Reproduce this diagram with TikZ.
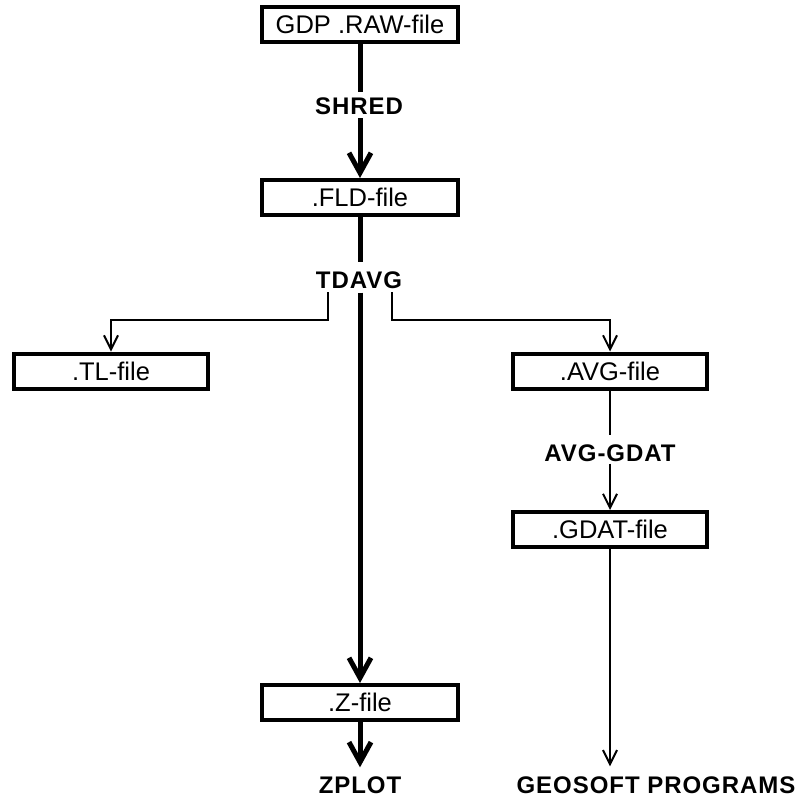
\documentclass[tikz,border=0pt]{standalone}
\usepackage{fontspec}
\setmainfont{Liberation Sans}
\newfontfamily\lblfont[LetterSpace=4]{Liberation Sans}
\usetikzlibrary{arrows.meta,calc}
\tikzset{
  filebox/.style={draw, line width=4pt, minimum width=196pt, minimum height=35pt,
    inner sep=0pt, font=\fontsize{25.5}{25.5}\selectfont},
  prog/.style={inner sep=0pt, font=\lblfont\bfseries\fontsize{24}{24}\selectfont},
  mainflow/.style={line width=5pt},
  mainarrow/.style={line width=5pt, -{Straight Barb[length=20pt,width=22pt]}},
  sideflow/.style={line width=2pt},
  sidearrow/.style={line width=2pt, -{Straight Barb[length=14pt,width=14pt]}},
}
\begin{document}
\begin{tikzpicture}[x=1pt,y=-1pt]
\useasboundingbox (0,0) rectangle (803,801);
\node[filebox] (raw) at (360,24.5) {GDP .RAW-file};
\node[prog] (shred) at (359,106.5) {SHRED};
\node[filebox] (fld) at (360,197.5) {.FLD-file};
\node[prog] (tdavg) at (359,280) {TDAVG};
\node[filebox, minimum width=194pt] (tl) at (111,371) {.TL-file};
\node[filebox, minimum width=194pt] (avg) at (610,371) {.AVG-file};
\node[prog] (avggdat) at (610,453) {AVG-GDAT};
\node[filebox, minimum width=194pt] (gdat) at (610,529.5) {.GDAT-file};
\node[filebox] (z) at (360,702.5) {.Z-file};
\node[prog] (zplot) at (360,785) {ZPLOT};
\node[prog] (geo) at (656,785) {GEOSOFT PROGRAMS};

\coordinate (lb) at (328,292);
\coordinate (rb) at (392,292);

\draw[mainflow] (raw.south) -- ($(raw.south |- shred.north)+(0,-6)$);
\draw[mainarrow] ($(fld.north |- shred.south)+(0,3)$) -- (fld.north);
\draw[mainflow] (fld.south) -- ($(fld.south |- tdavg.north)+(0,-9)$);
\draw[mainarrow] ($(z.north |- tdavg.south)+(0,4)$) -- (z.north);
\draw[mainarrow] (z.south) -- ($(zplot.north)+(0,-9)$);

\draw[sidearrow] (lb) -- ++(0,28) -| (tl.north);
\draw[sidearrow] (rb) -- ++(0,28) -| (avg.north);
\draw[sideflow] (avg.south) -- ($(avggdat.north)+(0,-9)$);
\draw[sidearrow] ($(avggdat.south)+(0,2)$) -- (gdat.north);
\draw[sidearrow] (gdat.south) -- ($(gdat.south |- geo.north)+(0,-10)$);
\end{tikzpicture}
\end{document}
